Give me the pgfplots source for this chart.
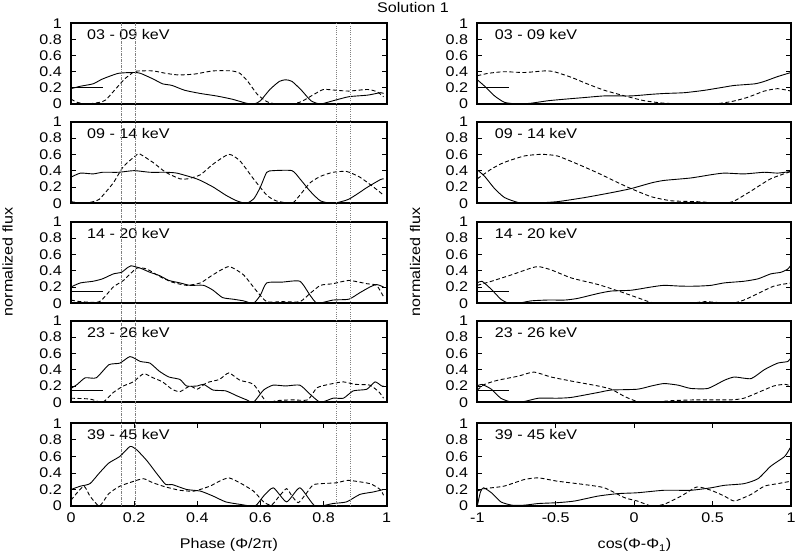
\documentclass[border=0pt]{standalone}
\usepackage{pgfplots}
\pgfplotsset{compat=1.18}
\usepackage{fontspec}
\setmainfont{Liberation Sans}[FakeStretch=1.15]

\pgfplotsset{
 panel/.style={scale only axis, ymin=0, ymax=1,
   ytick={0,0.2,0.4,0.6,0.8,1}, yticklabels={0,0.2,0.4,0.6,0.8,1},
   tick align=inside, major tick length=5bp,
   tick style={black, line width=0.8bp},
   axis line style={black, line width=1.9bp},
   yticklabel style={inner sep=0pt, xshift=-9bp},
   xticklabel style={inner sep=0pt, yshift=-7bp},
   xtick=\empty},
 lp/.style={panel, xmin=0, xmax=1, width=315.7bp},
 rp/.style={panel, xmin=-1, xmax=1, width=313.7bp},
 sol/.style={black, line width=0.9bp, smooth, tension=0.35},
 dsh/.style={black, line width=0.9bp, dash pattern=on 4bp off 2.5bp, smooth, tension=0.35},
 hl/.style={black, line width=1bp},
}
\tikzset{
 lbl/.style={anchor=base west, inner sep=0pt, xshift=16bp, yshift=-16.7bp},
 rlbl/.style={anchor=base west, inner sep=0pt, xshift=17.4bp, yshift=-16.7bp},
}

\begin{document}
\fontsize{14bp}{16bp}\selectfont
\begin{tikzpicture}[x=1bp, y=1bp]
\useasboundingbox (0,0) rectangle (796,554);

% ---------------- LEFT COLUMN ----------------
\begin{axis}[lp, at={(71bp,450bp)}, anchor=south west, height=80.7bp]
\addplot[sol] coordinates {(0,0.19) (0.03,0.22) (0.07,0.25) (0.10,0.31) (0.15,0.38) (0.20,0.39) (0.22,0.38) (0.26,0.31) (0.29,0.25) (0.32,0.23) (0.36,0.17) (0.41,0.13) (0.46,0.10) (0.51,0.06) (0.555,0.01) (0.58,0.0) (0.60,0.04) (0.63,0.18) (0.66,0.28) (0.68,0.30) (0.70,0.28) (0.73,0.17) (0.76,0.04) (0.79,0.0) (0.83,0.04) (0.88,0.09) (0.94,0.11) (0.98,0.14) (0.99,0.13)};
\addplot[dsh] coordinates {(0,0.06) (0.02,0.02) (0.05,0.0) (0.09,0.02) (0.11,0.05) (0.14,0.18) (0.17,0.31) (0.2,0.40) (0.22,0.41) (0.26,0.41) (0.3,0.38) (0.34,0.36) (0.39,0.37) (0.45,0.41) (0.51,0.41) (0.535,0.38) (0.56,0.28) (0.59,0.12) (0.62,0.03) (0.65,0.0) (0.70,0.0) (0.73,0.03) (0.77,0.12) (0.80,0.18) (0.84,0.17) (0.88,0.16) (0.94,0.18) (0.97,0.15) (0.99,0.09)};
\addplot[hl] coordinates {(0,0.2) (0.1,0.2)};
\node[lbl] at (rel axis cs:0,1) {03 - 09 keV};
\end{axis}

\begin{axis}[lp, at={(71bp,350.7bp)}, anchor=south west, height=81.6bp]
\addplot[sol] coordinates {(0,0.32) (0.03,0.37) (0.07,0.36) (0.10,0.38) (0.15,0.38) (0.20,0.40) (0.25,0.38) (0.30,0.38) (0.335,0.37) (0.39,0.31) (0.41,0.28) (0.45,0.20) (0.49,0.10) (0.525,0.03) (0.556,0.0) (0.58,0.06) (0.60,0.2) (0.62,0.38) (0.64,0.40) (0.70,0.40) (0.725,0.3) (0.757,0.15) (0.79,0.03) (0.83,0.0) (0.88,0.05) (0.94,0.2) (0.98,0.29) (0.99,0.30)};
\addplot[dsh] coordinates {(0,0.02) (0.04,0.0) (0.07,0.02) (0.09,0.05) (0.134,0.25) (0.166,0.45) (0.21,0.60) (0.22,0.60) (0.26,0.50) (0.30,0.38) (0.345,0.30) (0.37,0.30) (0.41,0.35) (0.45,0.48) (0.50,0.60) (0.535,0.52) (0.578,0.30) (0.62,0.10) (0.65,0.03) (0.70,0.0) (0.725,0.1) (0.757,0.25) (0.79,0.33) (0.83,0.38) (0.873,0.39) (0.915,0.32) (0.958,0.20) (0.99,0.10)};
\node[lbl] at (rel axis cs:0,1) {09 - 14 keV};
\end{axis}

\begin{axis}[lp, at={(71bp,250.7bp)}, anchor=south west, height=81.6bp]
\addplot[sol] coordinates {(0,0.2) (0.03,0.25) (0.07,0.27) (0.10,0.30) (0.134,0.36) (0.16,0.38) (0.18,0.44) (0.19,0.46) (0.22,0.43) (0.25,0.38) (0.28,0.34) (0.31,0.28) (0.345,0.25) (0.377,0.22) (0.42,0.22) (0.45,0.16) (0.48,0.07) (0.514,0.05) (0.546,0.03) (0.578,0.0) (0.60,0.1) (0.62,0.25) (0.67,0.26) (0.725,0.27) (0.757,0.1) (0.78,0.0) (0.83,0.04) (0.88,0.05) (0.915,0.13) (0.947,0.2) (0.968,0.23) (0.99,0.2)};
\addplot[dsh] coordinates {(0,0.04) (0.03,0.02) (0.09,0.02) (0.134,0.2) (0.166,0.28) (0.208,0.43) (0.24,0.42) (0.28,0.33) (0.32,0.26) (0.366,0.22) (0.41,0.25) (0.45,0.35) (0.50,0.45) (0.546,0.35) (0.588,0.15) (0.62,0.02) (0.67,0.02) (0.725,0.02) (0.757,0.12) (0.79,0.22) (0.83,0.24) (0.88,0.28) (0.937,0.24) (0.968,0.22) (0.99,0.08)};
\addplot[hl] coordinates {(0,0.14) (0.1,0.14)};
\node[lbl] at (rel axis cs:0,1) {14 - 20 keV};
\end{axis}

\begin{axis}[lp, at={(71bp,151.7bp)}, anchor=south west, height=81.6bp]
\addplot[sol] coordinates {(0,0.17) (0.02,0.22) (0.045,0.30) (0.08,0.30) (0.12,0.46) (0.155,0.48) (0.187,0.56) (0.22,0.50) (0.25,0.48) (0.28,0.38) (0.31,0.31) (0.345,0.28) (0.366,0.20) (0.40,0.20) (0.42,0.22) (0.45,0.15) (0.49,0.14) (0.525,0.08) (0.556,0.03) (0.578,0.0) (0.61,0.15) (0.64,0.21) (0.68,0.20) (0.725,0.21) (0.757,0.1) (0.79,0.0) (0.83,0.05) (0.863,0.05) (0.894,0.14) (0.937,0.16) (0.963,0.25) (0.984,0.20) (0.99,0.2)};
\addplot[dsh] coordinates {(0,0.05) (0.06,0.04) (0.10,0.0) (0.134,0.12) (0.166,0.20) (0.197,0.25) (0.23,0.35) (0.26,0.30) (0.29,0.25) (0.32,0.16) (0.345,0.13) (0.377,0.20) (0.40,0.16) (0.43,0.24) (0.47,0.28) (0.50,0.36) (0.535,0.27) (0.578,0.22) (0.62,0.0) (0.65,0.02) (0.70,0.03) (0.75,0.03) (0.78,0.18) (0.83,0.23) (0.863,0.25) (0.90,0.22) (0.947,0.21) (0.977,0.12) (0.99,0.05)};
\addplot[hl] coordinates {(0,0.15) (0.1,0.15)};
\node[lbl] at (rel axis cs:0,1) {23 - 26 keV};
\end{axis}

\begin{axis}[lp, at={(71bp,48bp)}, anchor=south west, height=82.7bp, clip=false,
  xtick={0,0.2,0.4,0.6,0.8,1}, xticklabels={0,0.2,0.4,0.6,0.8,1}]
\addplot[sol] coordinates {(0,0.2) (0.03,0.24) (0.06,0.27) (0.09,0.4) (0.12,0.52) (0.155,0.6) (0.187,0.72) (0.208,0.68) (0.24,0.55) (0.27,0.4) (0.30,0.26) (0.32,0.26) (0.366,0.2) (0.41,0.18) (0.45,0.12) (0.49,0.05) (0.535,0.02) (0.583,0.0) (0.61,0.12) (0.641,0.22) (0.683,0.05) (0.725,0.22) (0.773,0.0) (0.83,0.03) (0.873,0.05) (0.915,0.14) (0.958,0.17) (0.99,0.2)};
\addplot[dsh] coordinates {(0,0.07) (0.04,0.24) (0.06,0.12) (0.09,0.0) (0.12,0.15) (0.155,0.24) (0.2,0.3) (0.23,0.33) (0.26,0.28) (0.30,0.23) (0.345,0.19) (0.39,0.18) (0.44,0.24) (0.47,0.3) (0.50,0.34) (0.535,0.28) (0.578,0.18) (0.61,0.05) (0.635,0.01) (0.66,0.12) (0.683,0.21) (0.70,0.12) (0.72,0.04) (0.745,0.15) (0.77,0.26) (0.84,0.28) (0.878,0.31) (0.947,0.27) (0.979,0.2) (0.99,0.13)};
\addplot[gray, line width=0.6bp, dash pattern=on 3bp off 1.2bp on 0.6bp off 1.2bp] coordinates {(0.16,0) (0.16,5.837)};
\addplot[gray, line width=0.6bp, dash pattern=on 3bp off 1.2bp on 0.6bp off 1.2bp] coordinates {(0.205,0) (0.205,5.837)};
\addplot[gray, line width=0.6bp, dash pattern=on 0.7bp off 1.5bp] coordinates {(0.84,0) (0.84,5.837)};
\addplot[gray, line width=0.6bp, dash pattern=on 0.7bp off 1.5bp] coordinates {(0.884,0) (0.884,5.837)};
\node[lbl] at (rel axis cs:0,1) {39 - 45 keV};
\end{axis}

% ---------------- RIGHT COLUMN ----------------
\begin{axis}[rp, at={(477.3bp,450bp)}, anchor=south west, height=80.7bp]
\addplot[sol] coordinates {(-1,0.3) (-0.953,0.22) (-0.89,0.1) (-0.826,0.02) (-0.74,0.0) (-0.656,0.01) (-0.55,0.04) (-0.44,0.06) (-0.316,0.08) (-0.19,0.1) (-0.02,0.1) (0.11,0.12) (0.19,0.13) (0.32,0.14) (0.45,0.17) (0.575,0.21) (0.64,0.23) (0.77,0.25) (0.83,0.28) (0.915,0.34) (1,0.39)};
\addplot[dsh] coordinates {(-1,0.35) (-0.93,0.38) (-0.83,0.4) (-0.7,0.39) (-0.57,0.41) (-0.51,0.40) (-0.4,0.33) (-0.3,0.25) (-0.19,0.17) (-0.06,0.1) (0.066,0.04) (0.19,0.01) (0.34,0.0) (0.51,0.0) (0.62,0.03) (0.72,0.08) (0.83,0.16) (0.915,0.19) (1,0.16)};
\addplot[hl] coordinates {(-1,0.21) (-0.8,0.21)};
\node[rlbl] at (rel axis cs:0,1) {03 - 09 keV};
\end{axis}

\begin{axis}[rp, at={(477.3bp,350.7bp)}, anchor=south west, height=81.6bp]
\addplot[sol] coordinates {(-1,0.41) (-0.953,0.33) (-0.89,0.18) (-0.826,0.07) (-0.74,0.01) (-0.656,0.0) (-0.49,0.02) (-0.316,0.07) (-0.146,0.13) (-0.02,0.18) (0.11,0.25) (0.19,0.28) (0.36,0.31) (0.49,0.35) (0.575,0.37) (0.70,0.36) (0.83,0.38) (0.915,0.37) (1,0.39)};
\addplot[dsh] coordinates {(-1,0.3) (-0.91,0.42) (-0.83,0.5) (-0.7,0.58) (-0.59,0.6) (-0.49,0.58) (-0.36,0.48) (-0.23,0.37) (-0.1,0.25) (-0.02,0.18) (0.11,0.08) (0.24,0.03) (0.4,0.02) (0.575,0.0) (0.64,0.03) (0.745,0.15) (0.87,0.3) (1,0.39)};
\node[rlbl] at (rel axis cs:0,1) {09 - 14 keV};
\end{axis}

\begin{axis}[rp, at={(477.3bp,250.7bp)}, anchor=south west, height=81.6bp]
\addplot[sol] coordinates {(-1,0.25) (-0.97,0.27) (-0.91,0.17) (-0.85,0.05) (-0.8,0.0) (-0.74,0.0) (-0.656,0.03) (-0.55,0.04) (-0.44,0.04) (-0.36,0.06) (-0.23,0.12) (-0.146,0.15) (-0.02,0.16) (0.11,0.2) (0.19,0.22) (0.3,0.21) (0.4,0.21) (0.49,0.22) (0.575,0.25) (0.70,0.27) (0.79,0.3) (0.87,0.36) (0.936,0.38) (0.98,0.42) (1,0.47)};
\addplot[dsh] coordinates {(-1,0.22) (-0.91,0.27) (-0.78,0.35) (-0.66,0.43) (-0.61,0.45) (-0.53,0.41) (-0.4,0.31) (-0.23,0.23) (-0.1,0.15) (0.02,0.07) (0.11,0.01) (0.19,0.0) (0.36,0.0) (0.45,0.02) (0.62,0.0) (0.70,0.04) (0.79,0.12) (0.89,0.21) (1,0.25)};
\addplot[hl] coordinates {(-1,0.14) (-0.8,0.14)};
\node[rlbl] at (rel axis cs:0,1) {14 - 20 keV};
\end{axis}

\begin{axis}[rp, at={(477.3bp,151.7bp)}, anchor=south west, height=81.6bp]
\addplot[sol] coordinates {(-1,0.2) (-0.97,0.22) (-0.91,0.16) (-0.85,0.05) (-0.78,0.0) (-0.7,0.01) (-0.61,0.05) (-0.49,0.05) (-0.4,0.06) (-0.23,0.12) (-0.146,0.15) (0.02,0.16) (0.11,0.2) (0.19,0.23) (0.28,0.21) (0.36,0.17) (0.47,0.17) (0.575,0.27) (0.64,0.31) (0.745,0.29) (0.83,0.4) (0.915,0.48) (0.98,0.5) (1,0.55)};
\addplot[dsh] coordinates {(-1,0.15) (-0.953,0.22) (-0.87,0.27) (-0.74,0.32) (-0.64,0.37) (-0.53,0.31) (-0.4,0.26) (-0.23,0.2) (-0.146,0.16) (-0.06,0.07) (0.02,0.01) (0.11,0.0) (0.24,0.02) (0.4,0.03) (0.62,0.03) (0.70,0.05) (0.79,0.12) (0.89,0.2) (0.96,0.22) (1,0.2)};
\addplot[hl] coordinates {(-1,0.15) (-0.8,0.15)};
\node[rlbl] at (rel axis cs:0,1) {23 - 26 keV};
\end{axis}

\begin{axis}[rp, at={(477.3bp,48bp)}, anchor=south west, height=82.7bp,
  xtick={-1,-0.5,0,0.5,1}, xticklabels={-1,-0.5,0,0.5,1}]
\addplot[sol] coordinates {(-1,0.0) (-0.98,0.17) (-0.96,0.22) (-0.91,0.16) (-0.85,0.05) (-0.78,0.01) (-0.7,0.01) (-0.61,0.03) (-0.49,0.04) (-0.38,0.06) (-0.23,0.12) (-0.1,0.15) (0.02,0.16) (0.19,0.19) (0.36,0.19) (0.49,0.22) (0.575,0.25) (0.70,0.27) (0.79,0.33) (0.87,0.48) (0.96,0.6) (1,0.72)};
\addplot[dsh] coordinates {(-1,0.18) (-0.953,0.21) (-0.83,0.24) (-0.7,0.32) (-0.61,0.34) (-0.49,0.3) (-0.32,0.26) (-0.19,0.22) (-0.06,0.1) (0.02,0.06) (0.11,0.0) (0.19,0.02) (0.3,0.12) (0.4,0.23) (0.49,0.19) (0.575,0.12) (0.64,0.06) (0.745,0.14) (0.83,0.24) (0.915,0.27) (1,0.3)};
\node[rlbl] at (rel axis cs:0,1) {39 - 45 keV};
\end{axis}

% ---------------- TEXTS ----------------
\node[anchor=base] at (413,541) {Solution 1};
\node[rotate=90, anchor=center] at (7.5,292) {normalized flux};
\node[rotate=90, anchor=center] at (415,292) {normalized flux};
\node[anchor=base] at (229,5) {Phase (Φ/2π)};
\node[anchor=base] at (634.5,5) {cos(Φ-Φ\textsubscript{1})};
\end{tikzpicture}
\end{document}
